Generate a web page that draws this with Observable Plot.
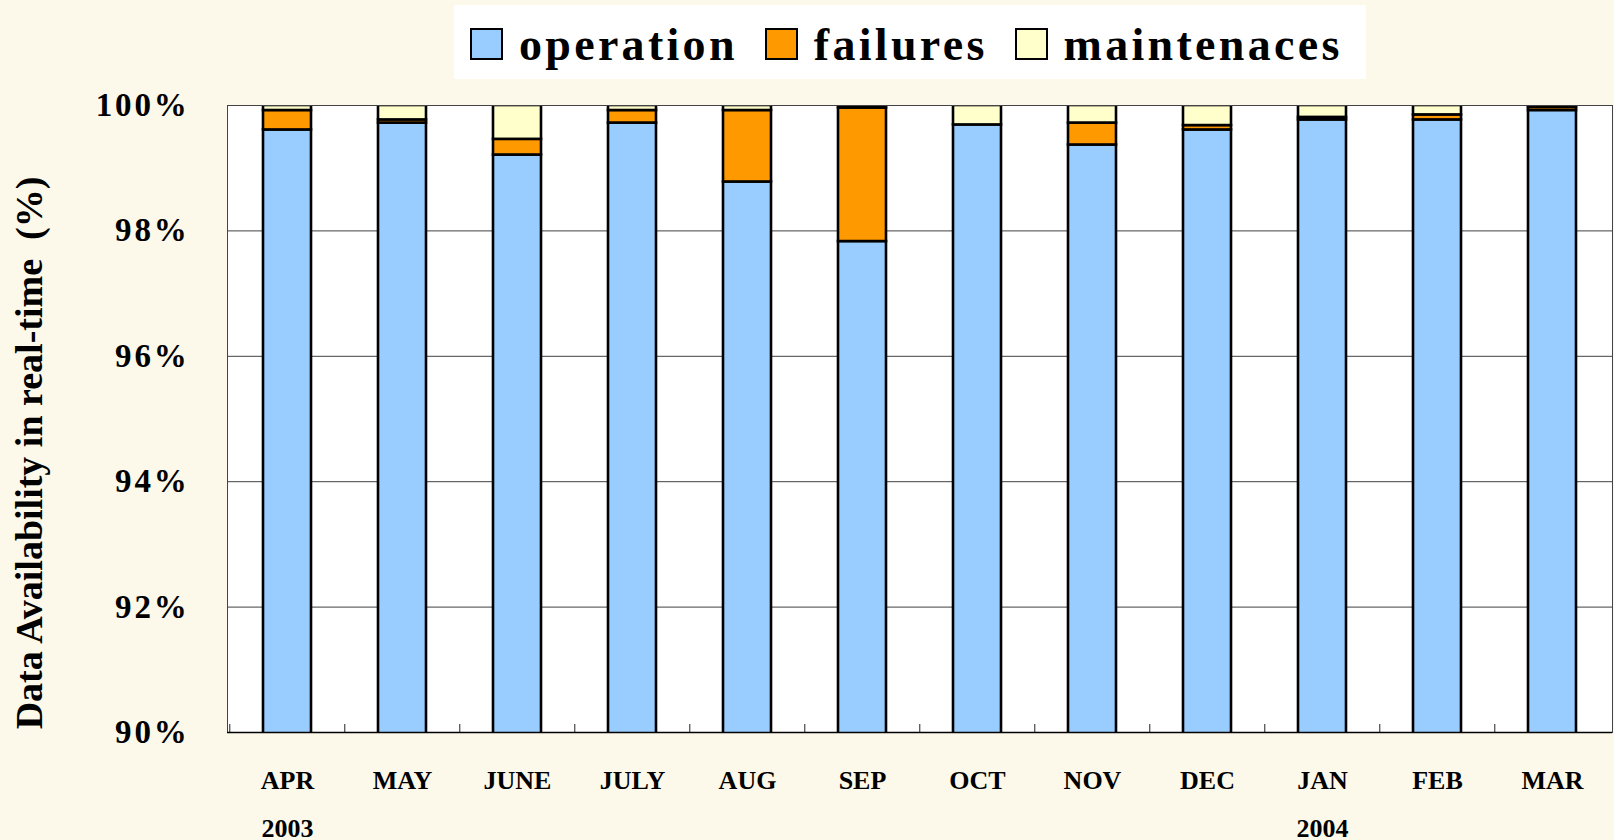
<!DOCTYPE html>
<html>
<head>
<meta charset="utf-8">
<script src="https://cdn.jsdelivr.net/npm/d3@7"></script>
<script src="https://cdn.jsdelivr.net/npm/@observablehq/plot@0.6"></script>
<style>
  html, body { margin: 0; padding: 0; background: #FCF8EA; overflow: hidden; }
  #wrap { position: relative; width: 1614px; height: 840px; background: #FCF8EA; }
  #legendArea { position: relative; height: 85px; }
  #legend {
    position: absolute; left: 454px; top: 5px; width: 912px; height: 74px;
    background: #ffffff; box-sizing: border-box; padding: 17px 0 0 16px;
    display: flex; align-items: baseline;
    font-family: "Liberation Serif", "Times New Roman", serif; font-weight: bold;
    font-size: 46px; line-height: 46px; letter-spacing: 3.3px; color: #000;
  }
  #legend .sw { width: 33px; height: 32px; box-sizing: border-box; border: 2px solid #000; flex: none; }
  #legend .lab { margin-left: 16px; margin-right: 27px; white-space: nowrap; }
  .chart g[aria-label="y-axis tick label"] text { letter-spacing: 2.8px; }
</style>
</head>
<body>
<div id="wrap">
  <div id="legendArea"><div id="legend"></div></div>
  <div id="chart"></div>
</div>
<script>
// ---- data ----
const months = ["APR","MAY","JUNE","JULY","AUG","SEP","OCT","NOV","DEC","JAN","FEB","MAR"];
const yearLabels = ["2003","","","","","","","","","2004","",""];
const seriesNames = ["operation","failures","maintenaces"];
const seriesColors = ["#99CCFF","#FF9900","#FFFFCC"];
const operation = [99.61, 99.72, 99.21, 99.72, 98.78, 97.83, 99.69, 99.37, 99.61, 99.77, 99.77, 99.92];
const failures  = [0.31, 0.05, 0.25, 0.20, 1.14, 2.13, 0.00, 0.35, 0.07, 0.04, 0.08, 0.05];
const maintenances = [0.08, 0.23, 0.54, 0.08, 0.08, 0.04, 0.31, 0.28, 0.32, 0.19, 0.15, 0.03];
const yTicks = [90, 92, 94, 96, 98, 100];
const gridValues = [92, 94, 96, 98];
const yTitle = "Data Availability in real-time  (%)";

// ---- table for Plot ----
const seriesValues = [operation, failures, maintenances];
const table = [];
months.forEach((m, i) => {
  seriesNames.forEach((s, k) => table.push({month: m, series: s, value: seriesValues[k][i]}));
});

// ---- legend ----
const legend = document.getElementById("legend");
seriesNames.forEach((s, k) => {
  const sw = document.createElement("span");
  sw.className = "sw";
  sw.style.background = seriesColors[k];
  const lab = document.createElement("span");
  lab.className = "lab";
  lab.textContent = s;
  legend.appendChild(sw);
  legend.appendChild(lab);
});

// ---- chart ----
const W = 1614, H = 755;
const mL = 227, mR = 2, mT = 20, mB = 108;
const step = (W - mL - mR) / months.length;
const pxPerUnit = (H - mT - mB) / (yTicks[yTicks.length - 1] - yTicks[0]);
const tickLen = 8 / pxPerUnit;
const font = "'Liberation Serif', 'Times New Roman', serif";

const plot = Plot.plot({
  width: W, height: H,
  marginLeft: mL, marginRight: mR, marginTop: mT, marginBottom: mB,
  className: "chart",
  style: {background: "transparent", fontFamily: font, color: "#000", overflow: "visible"},
  x: {type: "band", domain: months, paddingInner: 0.584, paddingOuter: 0.292},
  y: {domain: [yTicks[0], yTicks[yTicks.length - 1]]},
  color: {domain: seriesNames, range: seriesColors},
  marks: [
    Plot.frame({fill: "#ffffff", stroke: "none"}),
    Plot.ruleY(gridValues, {stroke: "#404040", strokeWidth: 1}),
    Plot.ruleX(months, {x: d => d, y1: yTicks[0], y2: yTicks[0] + tickLen, dx: -step / 2, stroke: "#222", strokeWidth: 1}),
    Plot.barY(table, {x: "month", y: "value", fill: "series", stroke: "#000", strokeWidth: 2.6, clip: true}),
    Plot.frame({stroke: "#444", strokeWidth: 1}),
    Plot.ruleY([yTicks[0]], {stroke: "#000", strokeWidth: 1.5}),
    Plot.axisY({ticks: yTicks, tickFormat: d => d + "%", tickSize: 0, tickPadding: 38,
                fontSize: 33, fontWeight: "bold", label: null}),
    Plot.axisX({tickSize: 0, tickPadding: 38, fontSize: 26, fontWeight: "bold", label: null}),
    Plot.axisX({tickSize: 0, tickPadding: 86, fontSize: 26, fontWeight: "bold", label: null,
                tickFormat: d => yearLabels[months.indexOf(d)]})
  ]
});
document.getElementById("chart").appendChild(plot);

// y-axis title
const svgSel = d3.select(plot.tagName.toLowerCase() === "svg" ? plot : plot.querySelector("svg"));
svgSel.append("text")
  .attr("transform", "translate(42,368) rotate(-90)")
  .attr("text-anchor", "middle")
  .style("font-family", font)
  .style("font-weight", "bold")
  .style("font-size", "38px")
  .style("white-space", "pre")
  .attr("fill", "#000")
  .text(yTitle);
</script>
</body>
</html>
